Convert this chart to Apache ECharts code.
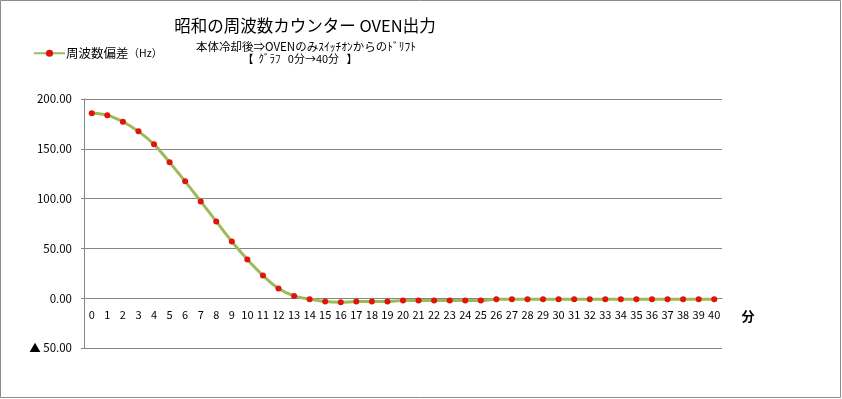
<!DOCTYPE html>
<html>
<head>
<meta charset="utf-8">
<script src="https://cdn.jsdelivr.net/npm/echarts@6/dist/echarts.min.js"></script>
<style>
html,body{margin:0;padding:0;background:#fff;}
#c{width:842px;height:399px;}
</style>
</head>
<body>
<div id="c"></div>
<script>
const categories = ['0','1','2','3','4','5','6','7','8','9','10','11','12','13','14','15','16','17','18','19','20',
  '21','22','23','24','25','26','27','28','29','30','31','32','33','34','35','36','37','38','39','40'];
const freqDeviation = [185.6, 183.6, 177.2, 167.5, 154.5, 136.4, 117.3, 97.2, 77.1, 57.0,
  38.9, 22.8, 9.7, 2.3, -1.0, -3.4, -4.0, -3.4, -3.4, -3.4,
  -2.4, -2.4, -2.4, -2.4, -2.4, -2.4, -1.0, -1.0, -1.0, -1.0,
  -1.0, -1.0, -1.0, -1.0, -1.0, -1.0, -1.0, -1.0, -1.0, -1.0, -1.0];
const seriesName = '周波数偏差（Hz）';
const titleMain = '昭和の周波数カウンター OVEN出力';
const titleSub1 = '本体冷却後⇒OVENのみｽｲｯﾁｵﾝからのﾄﾞﾘﾌﾄ';
const titleSub2 = '【  ｸﾞﾗﾌ   0分→40分   】';
const xUnit = '分';

const FONT = '"Noto Sans CJK JP", "Noto Sans", sans-serif';
const chart = echarts.init(document.getElementById('c'), null, {renderer: 'canvas'});
chart.setOption({
  backgroundColor: '#ffffff',
  animation: false,
  textStyle: {fontFamily: FONT},
  grid: {left: 84, right: 120, top: 99, bottom: 51, containLabel: false},
  legend: {
    left: 28, top: 42,
    itemWidth: 31, itemHeight: 9, itemGap: 4,
    textStyle: {fontFamily: FONT, fontSize: 12.5, color: '#000', padding: [0, 0, 0, -4],
      rich: {s: {fontFamily: FONT, fontSize: 10.5, color: '#000'}}},
    formatter: function(n){ return '周波数偏差{s|（Hz）}'; },
    data: [seriesName]
  },
  xAxis: {
    type: 'category',
    data: categories,
    boundaryGap: true,
    offset: -50,
    axisLine: {onZero: false, lineStyle: {color: '#868686', width: 1}},
    axisTick: {show: false},
    axisLabel: {interval: 0, margin: 11, fontSize: 11, color: '#000', fontFamily: FONT},
    splitLine: {show: false}
  },
  yAxis: {
    type: 'value',
    min: -50, max: 200, interval: 50,
    axisLine: {show: true, lineStyle: {color: '#868686', width: 1}},
    axisTick: {show: true, length: 3, lineStyle: {color: '#868686'}},
    axisLabel: {margin: 12, fontSize: 11.5, color: '#000', fontFamily: FONT,
      formatter: function(v){ return v < 0 ? '▲ ' + Math.abs(v).toFixed(2) : v.toFixed(2); }},
    splitLine: {show: true, lineStyle: {color: '#868686', width: 1}}
  },
  series: [{
    name: seriesName,
    type: 'line',
    data: freqDeviation,
    smooth: 0.35,
    symbol: 'circle',
    symbolSize: 6,
    itemStyle: {color: '#e3120b'},
    lineStyle: {color: '#9bbb59', width: 3},
    z: 3
  }],
  graphic: [
    {type: 'rect', shape: {x: 0.5, y: 0.5, width: 840, height: 397}, style: {fill: 'none', stroke: '#8c8c8c', lineWidth: 1}, silent: true},
    {type: 'text', x: 305, y: 26, style: {text: titleMain, fontFamily: FONT, fontSize: 16.5, fill: '#000', align: 'center', verticalAlign: 'middle'}},
    {type: 'text', x: 306, y: 47, style: {text: titleSub1, fontFamily: FONT, fontSize: 11.5, fill: '#000', align: 'center', verticalAlign: 'middle'}},
    {type: 'text', x: 300, y: 59, style: {text: titleSub2, fontFamily: FONT, fontSize: 11, fill: '#000', align: 'center', verticalAlign: 'middle'}},
    {type: 'text', x: 748, y: 316, style: {text: xUnit, fontFamily: FONT, fontSize: 13, fontWeight: 'bold', fill: '#000', align: 'center', verticalAlign: 'middle'}}
  ]
});
</script>
</body>
</html>
